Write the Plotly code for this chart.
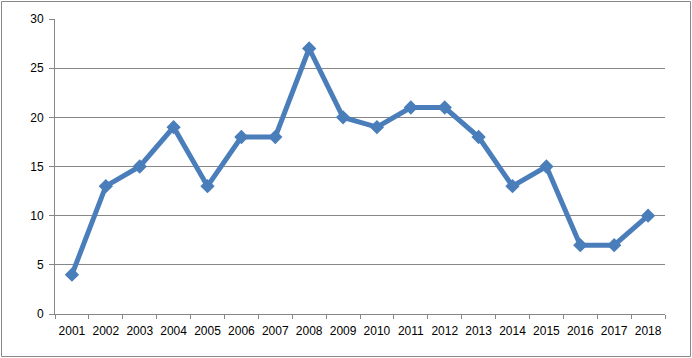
import plotly.graph_objects as go

years = [str(y) for y in range(2001, 2019)]
values = [4, 13, 15, 19, 13, 18, 18, 27, 20, 19, 21, 21, 18, 13, 15, 7, 7, 10]
y_ticks = [0, 5, 10, 15, 20, 25, 30]

W, H = 692, 358
L, R, T, B = 55, 27, 19, 44
pw, ph = W - L - R, H - T - B

fig = go.Figure()
fig.add_trace(go.Scatter(
    x=years, y=values, mode="lines+markers",
    line=dict(color="#4A7EBB", width=5),
    marker=dict(symbol="diamond", size=11, color="#4A7EBB"),
    showlegend=False, hoverinfo="skip",
))

grid = "#878787"
font = dict(family="Liberation Sans, Arial, sans-serif", size=12, color="#000000")
fig.update_layout(
    width=W, height=H,
    margin=dict(l=L, r=R, t=T, b=B),
    paper_bgcolor="white", plot_bgcolor="white",
    font=font,
    xaxis=dict(
        type="category", range=[-0.5, len(years) - 0.5],
        showline=True, linecolor=grid, linewidth=1,
        ticks="outside", ticklen=4, tickcolor=grid, tickson="boundaries",
        showgrid=False, zeroline=False, fixedrange=True,
        tickfont=font, tickangle=0, ticklabelstandoff=6,
    ),
    yaxis=dict(
        range=[0, 30], tickvals=y_ticks,
        showline=True, linecolor=grid, linewidth=1,
        ticks="outside", ticklen=5, tickcolor=grid,
        showgrid=True, gridcolor=grid, gridwidth=1,
        zeroline=False, fixedrange=True, tickfont=font, ticklabelstandoff=3,
    ),
    shapes=[dict(
        type="rect", xref="paper", yref="paper",
        x0=(1.5 - L) / pw, x1=(690.5 - L) / pw,
        y0=(H - B - 356.5) / ph, y1=(H - B - 1.5) / ph,
        line=dict(color=grid, width=1), layer="below",
    )],
)

fig.write_html("out.html")
